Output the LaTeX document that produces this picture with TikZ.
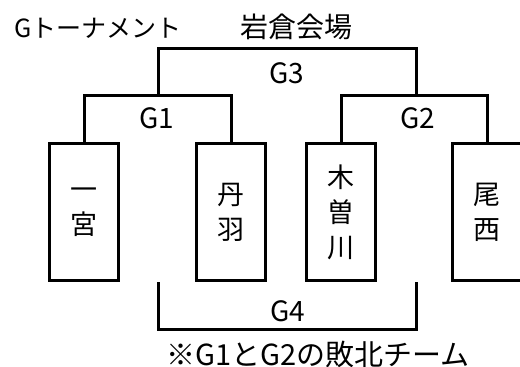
\documentclass[tikz,border=0pt]{standalone}
\usepackage{fontspec}
\setmainfont{Noto Sans CJK JP}
\usetikzlibrary{positioning}

\begin{document}
\begin{tikzpicture}[x=1pt,y=-1pt,
  team/.style={rectangle, draw, line width=3pt, minimum width=69pt, minimum height=137pt, inner sep=0pt, align=center, font=\fontsize{27}{35}\selectfont},
  gname/.style={inner sep=0pt, font=\fontsize{28}{30}\selectfont},
  bracket/.style={line width=3pt}]
\useasboundingbox (0,0) rectangle (520,367);

\node[gname, anchor=west, font=\fontsize{25}{30}\selectfont] (title) at (14,28) {Gトーナメント};
\node[gname] (venue) at (296,27) {岩倉会場};

\node[team] (ichinomiya) at (84,212) {一\\宮};
\node[team, right=75pt of ichinomiya] (niwa) {丹\\羽};
\node[team, right=38pt of niwa] (kisogawa) {木\\曽\\川};
\node[team, right=74pt of kisogawa] (bisai) {尾\\西};

\coordinate (g1top) at (158,95);
\coordinate (g2top) at (416,95);
\coordinate (g3top) at (287,48);
\coordinate (g4bot) at (287,329);

\node[gname] (g1) at (157,118) {G1};
\node[gname] (g2) at (418,118) {G2};
\node[gname] (g3) at (287,73) {G3};
\node[gname] (g4) at (288,311) {G4};
\node[gname, font=\fontsize{29}{30}\selectfont] (note) at (318,354) {※G1とG2の敗北チーム};

\draw[bracket] (ichinomiya.north) |- (g1top) -| (niwa.north);
\draw[bracket] (kisogawa.north) |- (g2top) -| (bisai.north);
\draw[bracket] (g1top) |- (g3top) -| (g2top);
\draw[bracket] (g1top |- niwa.south) |- (g4bot) -| (g2top |- kisogawa.south);
\end{tikzpicture}
\end{document}
